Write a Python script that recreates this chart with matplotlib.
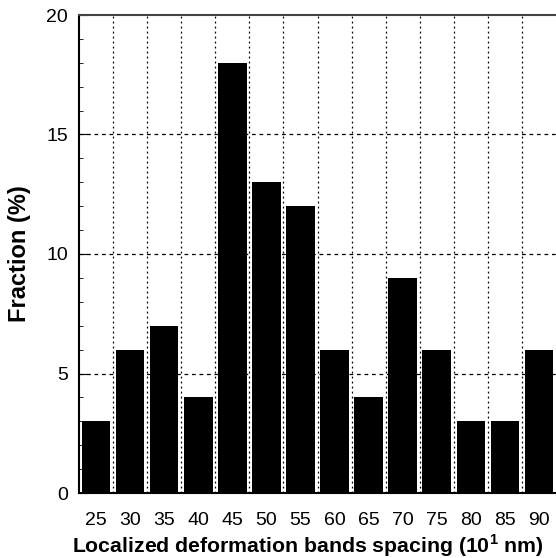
import matplotlib
matplotlib.use("Agg")
import matplotlib.pyplot as plt
import numpy as np

categories = [25, 30, 35, 40, 45, 50, 55, 60, 65, 70, 75, 80, 85, 90]
fractions = [3, 6, 7, 4, 18, 13, 12, 6, 4, 9, 6, 3, 3, 6]
y_ticks = [0, 5, 10, 15, 20]

plt.rcParams['font.family'] = ['Liberation Sans', 'DejaVu Sans']
plt.rcParams['mathtext.fontset'] = 'custom'
plt.rcParams['mathtext.bf'] = 'Liberation Sans:bold'
plt.rcParams['mathtext.rm'] = 'Liberation Sans'
fig = plt.figure(figsize=(5.56, 5.58), dpi=100)
ax = fig.add_axes([79/556, 65/558, 477/556, 478/558])

ax.bar(categories, fractions, width=4.2, color='black', zorder=3)

ax.set_xlim(22.5, 92.5)
ax.set_ylim(0, 20)
ax.set_xticks(categories)
ax.set_yticks(y_ticks)
ax.set_yticks(np.arange(0, 21, 1), minor=True)

# grid lines
for b in np.arange(27.5, 92.5, 5):
    ax.axvline(b, color='black', linestyle=(0, (1.5, 2.5)), linewidth=0.9, zorder=1)
for yv in [5, 10, 15]:
    ax.axhline(yv, color='black', linestyle=(0, (3, 3)), linewidth=0.9, zorder=1)

ax.spines['top'].set_linestyle((0, (1.5, 1)))
ax.spines['top'].set_color('#444444')
ax.spines['top'].set_linewidth(1.5)
ax.spines['right'].set_visible(False)
ax.spines['left'].set_linewidth(1.5)
ax.spines['bottom'].set_linewidth(1.5)

ax.tick_params(axis='y', which='major', direction='in', length=6, labelsize=14, pad=8)
ax.tick_params(axis='y', which='minor', direction='in', length=3)
ax.tick_params(axis='x', which='major', length=0, labelsize=14, pad=14)

ax.set_ylabel('Fraction (%)', fontsize=17, fontweight='bold', labelpad=11)
ax.set_xlabel('Localized deformation bands spacing (10$^\\mathbf{1}$ nm)', fontsize=15.3, fontweight='bold', labelpad=2)
ax.xaxis.label.set_x(0.48)

fig.savefig('out.png', dpi=100)
